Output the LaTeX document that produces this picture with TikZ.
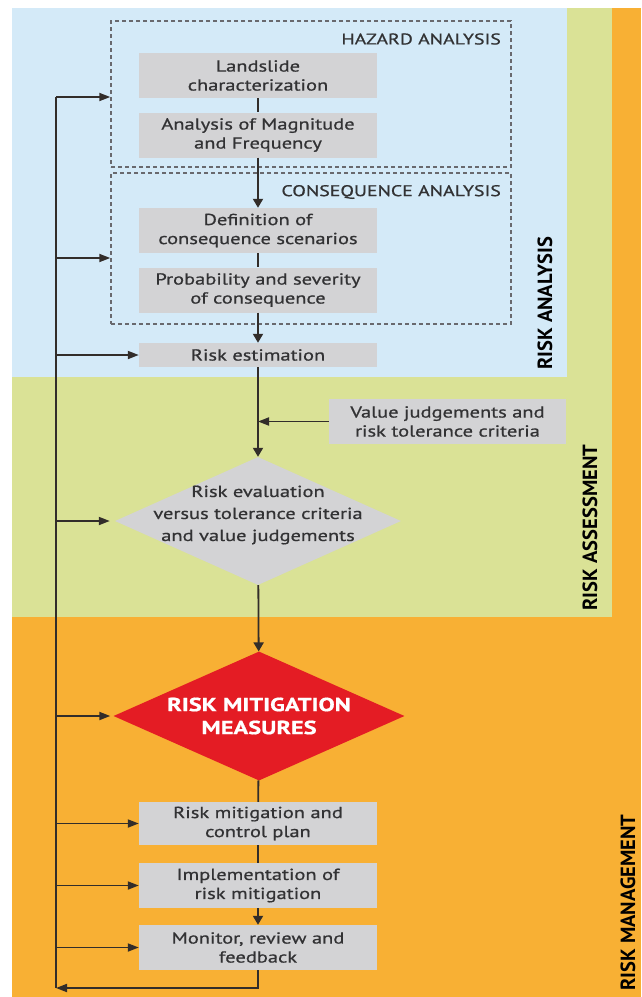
\documentclass[tikz,border=0pt]{standalone}
\usepackage{fontspec}
\setmainfont{PT Sans}[FakeStretch=1.28, FakeBold=0.8]
\newfontfamily\lblfont{PT Sans}
\usetikzlibrary{shapes.geometric,arrows.meta}
\definecolor{bluebg}{RGB}{212,234,248}
\definecolor{greenbg}{RGB}{218,226,150}
\definecolor{orangebg}{RGB}{248,176,52}
\definecolor{boxgrey}{RGB}{211,211,213}
\definecolor{txtgrey}{RGB}{50,50,52}
\definecolor{redd}{RGB}{228,28,36}
\definecolor{lncol}{RGB}{50,45,42}
\definecolor{dashcol}{RGB}{105,105,110}
\tikzset{
  gbox/.style={fill=boxgrey, minimum width=238, minimum height=45, inner sep=0,
    align=center, text=txtgrey, font=\fontsize{16}{19}\selectfont},
  dbox/.style={draw=dashcol, line width=1.5pt, dash pattern=on 4pt off 3pt, inner sep=0},
  hdr/.style={text=txtgrey, font=\fontsize{15.5}{19}\selectfont, inner sep=0},
  rotlbl/.style={rotate=90, inner sep=0, text=black, font=\lblfont\bfseries\fontsize{20.5}{22}\selectfont},
  ln/.style={draw=lncol, line width=1.8pt},
  arrh/.style={ln, -{Triangle[length=11pt,width=8pt]}},
  arrv/.style={ln, -{Triangle[length=9pt,width=10pt]}}
}
\begin{document}
\begin{tikzpicture}[x=1pt,y=-1pt]
\useasboundingbox (0,0) rectangle (641,997);
\fill[white] (0,0) rectangle (641,997);
\fill[orangebg] (12,8) rectangle (641,997);
\fill[greenbg] (12,8) rectangle (612,617);
\fill[bluebg] (12,8) rectangle (567,377);

% dashed groups
\node[dbox, minimum width=400, minimum height=146] (haz) at (311,94) {};
\node[dbox, minimum width=400, minimum height=151] (cons) at (311,248.5) {};
\node[hdr, anchor=east] (hazl) at (501,39) {HAZARD ANALYSIS};
\node[hdr, anchor=east] (consl) at (501,192) {CONSEQUENCE ANALYSIS};

% boxes
\node[gbox] (land) at (258,75.5) {Landslide\\characterization};
\node[gbox] (mag) at (258,135) {Analysis of Magnitude\\and Frequency};
\node[gbox] (def) at (258,230.5) {Definition of\\consequence scenarios};
\node[gbox] (prob) at (258,290) {Probability and severity\\of consequence};
\node[gbox, minimum height=24] (est) at (258,355) {Risk estimation};
\node[gbox, minimum width=237] (val) at (447.5,421.5) {Value judgements and\\risk tolerance criteria};
\node[diamond, fill=boxgrey, minimum width=286, minimum height=128, inner sep=0] (eval) at (258,521) {};
\node[align=center, text=txtgrey, inner sep=0, font=\fontsize{16}{22}\selectfont] (evaltxt) at (258,515) {Risk evaluation\\versus tolerance criteria\\and value judgements};
\node[diamond, fill=redd, minimum width=291, minimum height=129, inner sep=0] (mit) at (259,716) {};
\node[align=center, text=white, inner sep=0, font=\bfseries\fontsize{19}{23}\selectfont] (mittxt) at (259,716) {RISK MITIGATION\\MEASURES};
\node[gbox, minimum height=43] (ctrl) at (258,823.5) {Risk mitigation and\\control plan};
\node[gbox] (impl) at (258,885.5) {Implementation of\\risk mitigation};
\node[gbox] (mon) at (258,947.5) {Monitor, review and\\feedback};

% side labels
\node[rotlbl] (ra) at (545,303.5) {RISK ANALYSIS};
\node[rotlbl] (rass) at (590,527.5) {RISK ASSESSMENT};
\node[rotlbl, anchor=west] (rman) at (628,991) {RISK MANAGEMENT};

% main flow
\draw[ln] (land) -- (mag);
\draw[arrv] (mag) -- (def);
\draw[ln] (def) -- (prob);
\draw[arrv] (prob) -- (est);
\draw[arrv] (est) -- (eval);
\draw[arrh] (val.west) -- (val.west -| est.south);
\draw[arrv] (eval) -- (mit);
\draw[ln] (mit) -- (ctrl);
\draw[ln] (ctrl) -- (impl);
\draw[arrv] (impl) -- (mon);

% feedback loop
\coordinate (fbtop) at (56,97);
\coordinate (fbbot) at (56,988);
\coordinate (monbot) at (258,988);
\coordinate (fbcons) at (56,258);
\draw[arrh] (mon.south) -- (monbot) -- (fbbot);
\draw[ln] (fbbot) -- (fbtop);
\draw[arrh] (fbtop) -- (fbtop -| haz.west);
\draw[arrh] (fbcons) -- (fbcons -| cons.west);
\draw[arrh] (est.west -| fbtop) -- (est.west);
\draw[arrh, shorten >=5pt] (eval.west -| fbtop) -- (eval.west);
\draw[arrh, shorten >=3pt] (mit.west -| fbtop) -- (mit.west);
\draw[arrh] (ctrl.west -| fbtop) -- (ctrl.west);
\draw[arrh] (impl.west -| fbtop) -- (impl.west);
\draw[arrh] (mon.west -| fbtop) -- (mon.west);
\end{tikzpicture}
\end{document}
